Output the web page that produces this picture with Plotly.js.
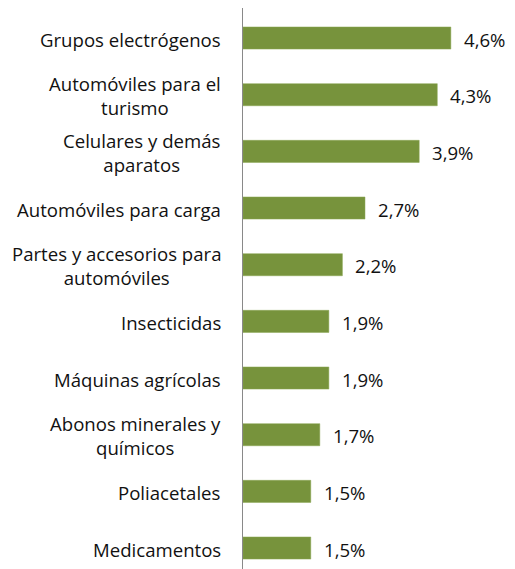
<!DOCTYPE html>
<html>
<head>
<meta charset="utf-8">
<script src="https://cdn.plot.ly/plotly-3.0.1.min.js"></script>
<style>
  html, body { margin: 0; padding: 0; background: #fff; }
  #chart { width: 515px; height: 569px; }
</style>
</head>
<body>
<div id="chart"></div>
<script>
const categories = [
  "Grupos electrógenos",
  "Automóviles para el<br>turismo",
  "Celulares y demás<br>aparatos",
  "Automóviles para carga",
  "Partes y accesorios para<br>automóviles",
  "Insecticidas",
  "Máquinas agrícolas",
  "Abonos minerales y<br>químicos",
  "Poliacetales",
  "Medicamentos"
];
const shares = [4.6, 4.3, 3.9, 2.7, 2.2, 1.9, 1.9, 1.7, 1.5, 1.5];

const FONT = "'Open Sans', Lato, sans-serif";
const FSIZE = 18.6;
const labelX = -0.075; // right edge of category labels, paper coords

const trace = {
  type: "bar",
  orientation: "h",
  y: categories,
  x: shares,
  marker: { color: "#77933C", line: { color: "#8aa653", width: 0.5 } },
  width: 0.39,
  hoverinfo: "skip"
};

const annotations = [];
categories.forEach((c, i) => {
  annotations.push({
    xref: "paper", yref: "y", x: labelX, y: c, yshift: -1,
    text: c, showarrow: false, xanchor: "right", align: "center",
    font: { family: FONT, size: FSIZE, color: "#111" }
  });
  annotations.push({
    xref: "x", yref: "y", x: shares[i], y: c, yshift: -1,
    text: shares[i].toFixed(1).replace(".", ",") + "%",
    showarrow: false, xanchor: "left", xshift: 11,
    font: { family: FONT, size: FSIZE, color: "#111" }
  });
});

const layout = {
  width: 515,
  height: 569,
  margin: { l: 243, r: 0, t: 8, b: 0 },
  paper_bgcolor: "#fff",
  plot_bgcolor: "#fff",
  showlegend: false,
  font: { family: FONT, size: 16, color: "#111" },
  xaxis: { range: [0, 6.02], visible: false, fixedrange: true },
  yaxis: {
    type: "category",
    range: [9.37, -0.53],
    showticklabels: false,
    ticks: "",
    showgrid: false,
    zeroline: false,
    showline: true,
    linecolor: "#898989",
    linewidth: 1.5,
    fixedrange: true
  },
  annotations
};

Plotly.newPlot("chart", [trace], layout, { displayModeBar: false, staticPlot: true });
</script>
</body>
</html>
